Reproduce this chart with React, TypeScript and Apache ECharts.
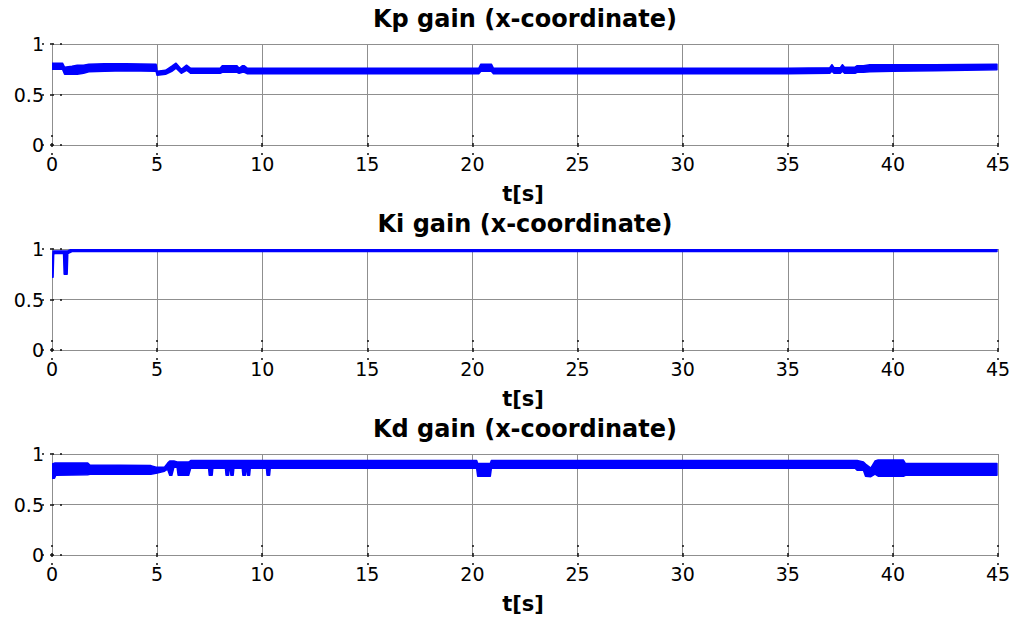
import { useEffect, useRef } from 'react'
import * as echarts from 'echarts'

// ── Data (band envelopes: lo / hi) ────────────────────────────────────────────

const titles = ['Kp gain (x-coordinate)', 'Ki gain (x-coordinate)', 'Kd gain (x-coordinate)']

const kpT = [0, 0.5, 0.6, 0.95, 1.2, 1.5, 1.75, 2.5, 3.5, 4.95, 5.0, 5.4, 5.7, 5.9, 6.15, 6.4, 6.6, 8.0, 8.1, 8.8, 8.9, 9.05, 9.15, 9.3, 15, 20.3, 20.4, 20.9, 21.0, 25, 30, 35, 37.0, 37.1, 37.2, 37.5, 37.6, 37.7, 38.2, 38.3, 38.6, 38.9, 40, 42, 44.95]
const kpLo = [0.75, 0.75, 0.70, 0.70, 0.70, 0.71, 0.725, 0.73, 0.735, 0.73, 0.69, 0.70, 0.73, 0.76, 0.71, 0.74, 0.71, 0.71, 0.72, 0.72, 0.71, 0.72, 0.72, 0.705, 0.705, 0.705, 0.73, 0.73, 0.705, 0.705, 0.705, 0.705, 0.71, 0.73, 0.71, 0.71, 0.73, 0.71, 0.71, 0.72, 0.72, 0.725, 0.73, 0.735, 0.745]
const kpHi = [0.81, 0.81, 0.77, 0.78, 0.79, 0.79, 0.80, 0.805, 0.805, 0.80, 0.73, 0.74, 0.78, 0.81, 0.75, 0.79, 0.76, 0.76, 0.785, 0.785, 0.76, 0.785, 0.785, 0.76, 0.76, 0.76, 0.80, 0.80, 0.76, 0.76, 0.76, 0.76, 0.765, 0.795, 0.765, 0.765, 0.795, 0.77, 0.77, 0.785, 0.785, 0.795, 0.795, 0.795, 0.80]

const kiT = [0, 0.05, 0.08, 0.15, 0.55, 0.58, 0.72, 0.75, 0.85, 0.95, 44.95]
const kiLo = [0.72, 0.72, 0.95, 0.955, 0.955, 0.75, 0.75, 0.955, 0.965, 0.975, 0.975]
const kiHi = [0.78, 0.98, 0.98, 0.98, 0.98, 0.98, 0.98, 0.98, 0.99, 1.0, 1.0]

const kdT = [0, 0.12, 0.18, 1.7, 1.8, 4.7, 4.95, 5.35, 5.5, 5.6, 5.7, 5.8, 5.95, 6.0, 6.5, 6.6, 7.45, 7.48, 7.62, 7.65, 8.25, 8.28, 8.4, 8.43, 8.48, 8.51, 8.62, 8.65, 9.05, 9.08, 9.2, 9.23, 9.27, 9.3, 9.4, 9.43, 10.2, 10.23, 10.35, 10.38, 20.2, 20.25, 20.85, 20.9, 30, 38.2, 38.3, 38.6, 38.7, 38.95, 39.15, 39.3, 40.5, 40.6, 44.95]
const kdLo = [0.76, 0.76, 0.79, 0.795, 0.80, 0.80, 0.81, 0.83, 0.85, 0.79, 0.79, 0.87, 0.87, 0.79, 0.79, 0.86, 0.86, 0.79, 0.79, 0.86, 0.86, 0.79, 0.79, 0.86, 0.86, 0.79, 0.79, 0.86, 0.86, 0.79, 0.79, 0.86, 0.86, 0.79, 0.79, 0.86, 0.86, 0.79, 0.79, 0.86, 0.86, 0.78, 0.78, 0.86, 0.86, 0.86, 0.84, 0.84, 0.78, 0.775, 0.80, 0.78, 0.78, 0.79, 0.79]
const kdHi = [0.90, 0.91, 0.91, 0.91, 0.89, 0.885, 0.87, 0.87, 0.91, 0.93, 0.93, 0.93, 0.92, 0.92, 0.92, 0.935, 0.935, 0.935, 0.935, 0.935, 0.935, 0.935, 0.935, 0.935, 0.935, 0.935, 0.935, 0.935, 0.935, 0.935, 0.935, 0.935, 0.935, 0.935, 0.935, 0.935, 0.935, 0.935, 0.935, 0.935, 0.935, 0.905, 0.905, 0.935, 0.935, 0.935, 0.935, 0.92, 0.90, 0.86, 0.93, 0.94, 0.94, 0.905, 0.905]

const bands = [
  { t: kpT, lo: kpLo, hi: kpHi },
  { t: kiT, lo: kiLo, hi: kiHi },
  { t: kdT, lo: kdLo, hi: kdHi },
]

// ── Layout / style ────────────────────────────────────────────────────────────

const BLUE = '#0000ff'
const GRID_C = '#8f8f8f'
const FONT = 'DejaVu Sans'
const gridTops = [44, 249, 454]
const GRID_LEFT = 52
const GRID_W = 946
const GRID_H = 101

const tick = {
  show: true,
  inside: true,
  length: 10,
  lineStyle: { color: '#111', width: 1.5, type: [2, 6] },
}

function buildOption() {
  const grid: any[] = []
  const xAxis: any[] = []
  const yAxis: any[] = []
  const series: any[] = []
  const graphic: any[] = []

  gridTops.forEach((top, g) => {
    grid.push({ left: GRID_LEFT, top, width: GRID_W, height: GRID_H })

    const axisLine = { show: true, lineStyle: { color: GRID_C, width: 1 } }
    xAxis.push({
      type: 'value', gridIndex: g, min: 0, max: 45, interval: 5, position: 'bottom',
      axisLine, axisTick: tick,
      axisLabel: { color: '#000', fontFamily: FONT, fontSize: 19, margin: 9 },
      splitLine: { show: true, lineStyle: { color: GRID_C, width: 1 } },
    })
    xAxis.push({
      type: 'value', gridIndex: g, min: 0, max: 45, interval: 5, position: 'top',
      axisLine, axisTick: tick, axisLabel: { show: false }, splitLine: { show: false },
    })
    yAxis.push({
      type: 'value', gridIndex: g, min: 0, max: 1, interval: 0.5, position: 'left',
      axisLine, axisTick: tick,
      axisLabel: { color: '#000', fontFamily: FONT, fontSize: 19, margin: 8 },
      splitLine: { show: true, lineStyle: { color: GRID_C, width: 1 } },
    })
    yAxis.push({
      type: 'value', gridIndex: g, min: 0, max: 1, interval: 0.5, position: 'right',
      axisLine, axisTick: tick, axisLabel: { show: false }, splitLine: { show: false },
    })

    const b = bands[g]
    series.push({
      type: 'custom',
      xAxisIndex: g * 2,
      yAxisIndex: g * 2,
      clip: true,
      data: b.t.map((t, i) => [t, b.lo[i], b.hi[i]]),
      encode: { x: 0, y: [1, 2] },
      renderItem: (params: any, api: any) => {
        if (params.dataIndex !== 0) return null
        const upper = b.t.map((t, i) => api.coord([t, b.hi[i]]))
        const lower = b.t.map((t, i) => api.coord([t, b.lo[i]])).reverse()
        return {
          type: 'polygon',
          shape: { points: upper.concat(lower) },
          style: { fill: BLUE, stroke: BLUE, lineWidth: 1.5, lineJoin: 'round' },
        }
      },
    })

    const cx = GRID_LEFT + GRID_W / 2
    graphic.push({
      type: 'text', x: cx, y: top - 25,
      style: {
        text: titles[g], fill: '#000', font: `bold 24px "${FONT}"`,
        align: 'center', verticalAlign: 'middle',
      },
    })
    graphic.push({
      type: 'text', x: cx - 2, y: top + GRID_H + 49,
      style: {
        text: 't[s]', fill: '#000', font: `bold 21px "${FONT}"`,
        align: 'center', verticalAlign: 'middle',
      },
    })
  })

  return { animation: false, backgroundColor: '#fff', grid, xAxis, yAxis, series, graphic }
}

export default function App() {
  const ref = useRef<HTMLDivElement>(null)

  useEffect(() => {
    if (!ref.current) return
    const chart = echarts.init(ref.current, null, { renderer: 'svg' })
    chart.setOption(buildOption())
    return () => { chart.dispose() }
  }, [])

  return (
    <div
      ref={ref}
      style={{ position: 'absolute', left: 0, top: 0, width: 1024, height: 626 }}
    />
  )
}
